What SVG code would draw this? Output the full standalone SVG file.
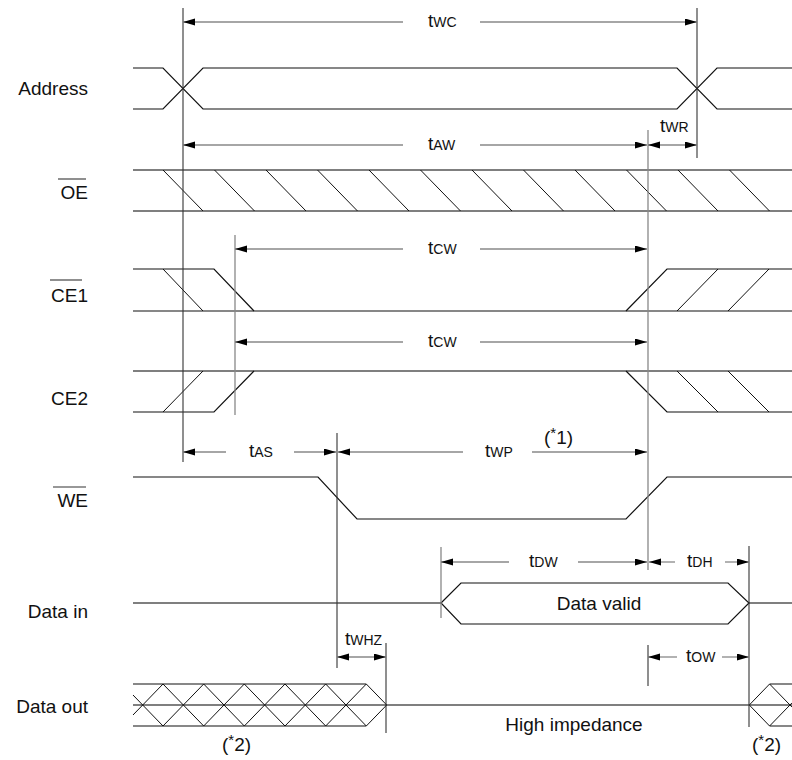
<svg xmlns="http://www.w3.org/2000/svg" width="792" height="760" viewBox="0 0 792 760">
<defs>
<marker id="ah" markerUnits="userSpaceOnUse" markerWidth="13" markerHeight="8" refX="12" refY="3.5" orient="auto-start-reverse">
<path d="M0,0 L12,3.5 L0,7 z" fill="#000"/>
</marker>
</defs>
<style>
.sig{fill:none;stroke:#111;stroke-width:1.2}
.sigg{fill:none;stroke:#555;stroke-width:1.4}
.hat{fill:none;stroke:#111;stroke-width:1}
.dim{fill:none;stroke:#888;stroke-width:1.3}
.vk{stroke:#333;stroke-width:1.1}
.vg{stroke:#888;stroke-width:1.3}
.a{marker-end:url(#ah)}
.s{marker-start:url(#ah)}
text{font-family:"Liberation Sans",Arial,sans-serif;fill:#111}
.lbl{font-size:19px;text-anchor:end}
.t{font-size:19px}
.sub{font-size:14px}
.big{font-size:19px}
.ov{stroke:#333;stroke-width:1.1}
</style>
<rect width="792" height="760" fill="#fff"/>

<g id="labels">
<text class="lbl" x="88" y="95">Address</text>
<text class="lbl" x="88" y="199">OE</text>
<line class="ov" x1="58" y1="179" x2="86" y2="179"/>
<text class="lbl" x="88" y="302">CE1</text>
<line class="ov" x1="50" y1="280" x2="82" y2="280"/>
<text class="lbl" x="88" y="405">CE2</text>
<text class="lbl" x="88" y="507">WE</text>
<line class="ov" x1="53" y1="487" x2="86" y2="487"/>
<text class="lbl" x="88" y="618">Data in</text>
<text class="lbl" x="88" y="713">Data out</text>
</g>

<g id="sig-address">
<path class="sig" d="M133,68 H163 L203,109 H677 L717,68 H792"/>
<path class="sig" d="M133,109 H163 L203,68 H677 L717,109 H792"/>
</g>

<g id="sig-oe">
<path class="sigg" d="M133,170 H792 M133,211 H792"/>
<path class="hat" d="M163,170 L203,211 M214.5,170 L254.5,211 M266,170 L306,211 M317.5,170 L357.5,211 M369,170 L409,211 M420.5,170 L460.5,211 M472,170 L512,211 M523.5,170 L563.5,211 M575,170 L615,211 M626.5,170 L666.5,211 M678,170 L718,211 M729.5,170 L769.5,211"/>
</g>

<g id="sig-ce1">
<path class="sig" d="M133,269 H214 L254,311"/>
<path class="sig" d="M133,311 H792"/>
<path class="sig" d="M626,311 L667,269 H792"/>
<path class="hat" d="M163,269 L203,311 M677,311 L718,269 M728,311 L769,269"/>
</g>

<g id="sig-ce2">
<path class="sigg" d="M133,371 H792"/>
<path class="sig" d="M133,412 H214 L254,371"/>
<path class="sig" d="M626,371 L667,412 H792"/>
<path class="hat" d="M163,412 L203,371 M677,371 L718,412 M728,371 L769,412"/>
</g>

<g id="sig-we">
<path class="sig" d="M133,477 H318 L357,519 H626 L667,477 H792"/>
</g>

<g id="sig-datain">
<path class="sigg" d="M133,603 H441 M749,603 H792"/>
<path class="sig" d="M441,603 L461,583 H728 L749,603 L728,624 H461 Z"/>
<text class="big" x="599" y="610" text-anchor="middle">Data valid</text>
</g>

<g id="sig-dataout">
<path class="sigg" d="M133,705 H792"/>
<path class="sig" d="M133,684 H366.3 M133,726 H366.3"/>
<path class="hat" d="M133,715 L163,684 L203.7,726 L244.3,684 L285,726 L325.7,684 L366.3,726 L386.7,705"/>
<path class="hat" d="M133,695 L163,726 L203.7,684 L244.3,726 L285,684 L325.7,726 L366.3,684 L386.7,705"/>
<path class="sig" d="M769.6,684 H792 M769.6,726 H792"/>
<path class="hat" d="M749.3,705 L769.6,684 L792,707.1 M749.3,705 L769.6,726 L792,702.9"/>
<text class="big" x="574" y="731" text-anchor="middle">High impedance</text>
<text class="big" x="222" y="751">(<tspan font-size="15px" dy="-6">*</tspan><tspan dy="6">2)</tspan></text>
<text class="big" x="752" y="751">(<tspan font-size="15px" dy="-6">*</tspan><tspan dy="6">2)</tspan></text>
</g>

<g id="connectors">
<line class="vk" x1="183" y1="8" x2="183" y2="462"/>
<line class="vk" x1="697" y1="8" x2="697" y2="158"/>
<line class="vg" x1="648" y1="130" x2="648" y2="570"/>
<line class="vg" x1="235" y1="235" x2="235" y2="415"/>
<line class="vk" x1="337" y1="433" x2="337" y2="668"/>
<line class="vg" x1="441" y1="547" x2="441" y2="618"/>
<line class="vk" x1="749" y1="546" x2="749" y2="727"/>
<line class="vk" x1="386" y1="643" x2="386" y2="733"/>
<line class="vk" x1="648" y1="645" x2="648" y2="686"/>

<line class="dim s" x1="183" y1="22" x2="403" y2="22"/>
<line class="dim a" x1="480" y1="22" x2="697" y2="22"/>
<line class="dim s" x1="183" y1="145" x2="403" y2="145"/>
<line class="dim a" x1="480" y1="145" x2="647" y2="145"/>
<line class="dim s a" x1="648" y1="145" x2="697" y2="145"/>
<line class="dim s" x1="235" y1="249" x2="403" y2="249"/>
<line class="dim a" x1="480" y1="249" x2="647" y2="249"/>
<line class="dim s" x1="235" y1="342" x2="403" y2="342"/>
<line class="dim a" x1="480" y1="342" x2="647" y2="342"/>
<line class="dim s" x1="183" y1="452" x2="226" y2="452"/>
<line class="dim a" x1="294" y1="452" x2="336" y2="452"/>
<line class="dim s" x1="338" y1="452" x2="463" y2="452"/>
<line class="dim a" x1="532" y1="452" x2="647" y2="452"/>
<line class="dim s" x1="441" y1="562" x2="509" y2="562"/>
<line class="dim a" x1="578" y1="562" x2="647" y2="562"/>
<line class="dim s" x1="649" y1="562" x2="675" y2="562"/>
<line class="dim a" x1="725" y1="562" x2="749" y2="562"/>
<line class="dim s a" x1="337" y1="657" x2="386" y2="657"/>
<line class="dim s" x1="648" y1="657" x2="677" y2="657"/>
<line class="dim a" x1="722" y1="657" x2="749" y2="657"/>
</g>

<g id="timing-labels">
<text class="t" x="428" y="27">t<tspan class="sub">WC</tspan></text>
<text class="t" x="428" y="150">t<tspan class="sub">AW</tspan></text>
<text class="t" x="660" y="132">t<tspan class="sub">WR</tspan></text>
<text class="t" x="428" y="254">t<tspan class="sub">CW</tspan></text>
<text class="t" x="428" y="347">t<tspan class="sub">CW</tspan></text>
<text class="t" x="249" y="457">t<tspan class="sub">AS</tspan></text>
<text class="t" x="485" y="457">t<tspan class="sub">WP</tspan></text>
<text class="big" x="544" y="444">(<tspan font-size="15px" dy="-6">*</tspan><tspan dy="6">1)</tspan></text>
<text class="t" x="529" y="567">t<tspan class="sub">DW</tspan></text>
<text class="t" x="687" y="567">t<tspan class="sub">DH</tspan></text>
<text class="t" x="345" y="645">t<tspan class="sub">WHZ</tspan></text>
<text class="t" x="686" y="662">t<tspan class="sub">OW</tspan></text>
</g>
</svg>
